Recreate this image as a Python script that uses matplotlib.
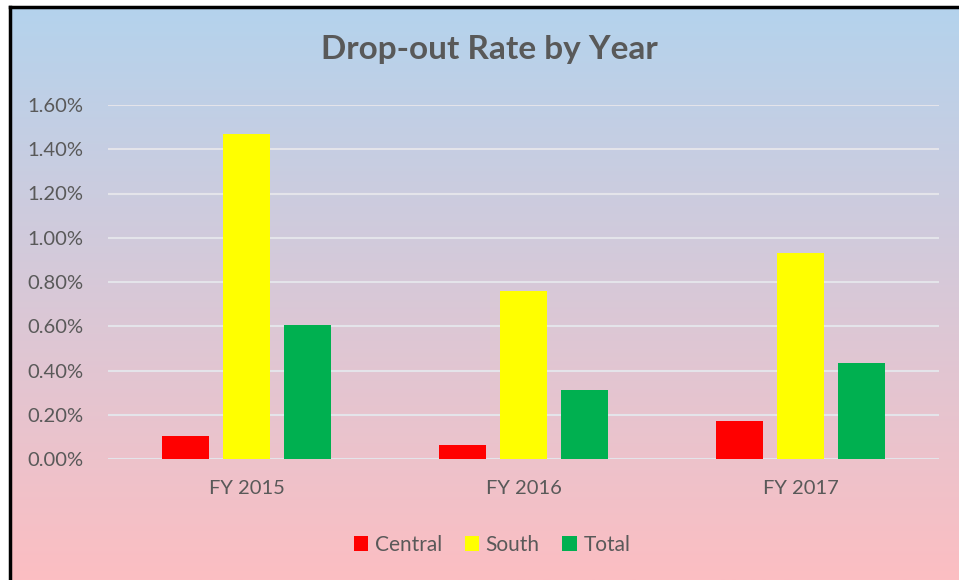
import numpy as np
import matplotlib.pyplot as plt
from matplotlib.ticker import PercentFormatter
from matplotlib.lines import Line2D

# data (drop-out rate as fraction)
years = ['FY 2015', 'FY 2016', 'FY 2017']
central = [0.00105, 0.00065, 0.0017]
south = [0.0147, 0.0076, 0.0093]
total = [0.00605, 0.0031, 0.00435]

plt.rcParams['font.family'] = ['Lato', 'DejaVu Sans']
txt_col = '#595959'

fig = plt.figure(figsize=(9.59, 5.80), dpi=100)

# gradient background (blue at top -> pink at bottom)
bg = fig.add_axes([0, 0, 1, 1])
bg.set_xlim(0, 1)
bg.set_ylim(0, 1)
bg.axis('off')
top_c = np.array([180, 211, 237]) / 255
bot_c = np.array([252, 190, 194]) / 255
t = np.linspace(0, 1, 256)[:, None]
grad = (top_c[None, :] * (1 - t) + bot_c[None, :] * t)[:, None, :]
x0, y1 = 10 / 959, 1 - 7 / 580
bg.imshow(grad, extent=[x0, 1, 0, y1], aspect='auto', zorder=0)
bg.add_line(Line2D([x0, x0], [0, y1], color='black', lw=2.5))
bg.add_line(Line2D([x0, 1], [y1, y1], color='black', lw=2.5))

ax = fig.add_axes([108 / 959, 1 - 459 / 580, (939 - 108) / 959, (459 - 105) / 580])
ax.patch.set_alpha(0)

x = np.arange(len(years))
w = 0.17
off = 0.22
ax.bar(x - off, central, w, color='#ff0000', label='Central', zorder=3)
ax.bar(x, south, w, color='#ffff00', label='South', zorder=3)
ax.bar(x + off, total, w, color='#00b050', label='Total', zorder=3)

ax.set_xlim(-0.5, 2.5)
ax.set_ylim(0, 0.016)
ax.set_yticks(np.arange(0, 0.0161, 0.002))
ax.yaxis.set_major_formatter(PercentFormatter(1.0, decimals=2))
ax.set_xticks(x)
ax.set_xticklabels(years)
ax.grid(axis='y', color='#e4e4ea', lw=1.5, zorder=1)
for s in ax.spines.values():
    s.set_visible(False)
ax.tick_params(axis='both', length=0, colors=txt_col, labelsize=14.5)
ax.tick_params(axis='y', pad=18)
ax.tick_params(axis='x', pad=15)

fig.text(0.51, 1 - 50 / 580, 'Drop-out Rate by Year', ha='center', va='center',
         fontsize=24, fontweight='bold', color=txt_col)

fig.legend(loc='center', bbox_to_anchor=(0.513, 1 - 545 / 580), ncol=3, frameon=False,
           fontsize=15, handlelength=0.7, handleheight=0.7, handletextpad=0.3,
           columnspacing=1.1, labelcolor=txt_col)

fig.savefig('out.png', dpi=100)
